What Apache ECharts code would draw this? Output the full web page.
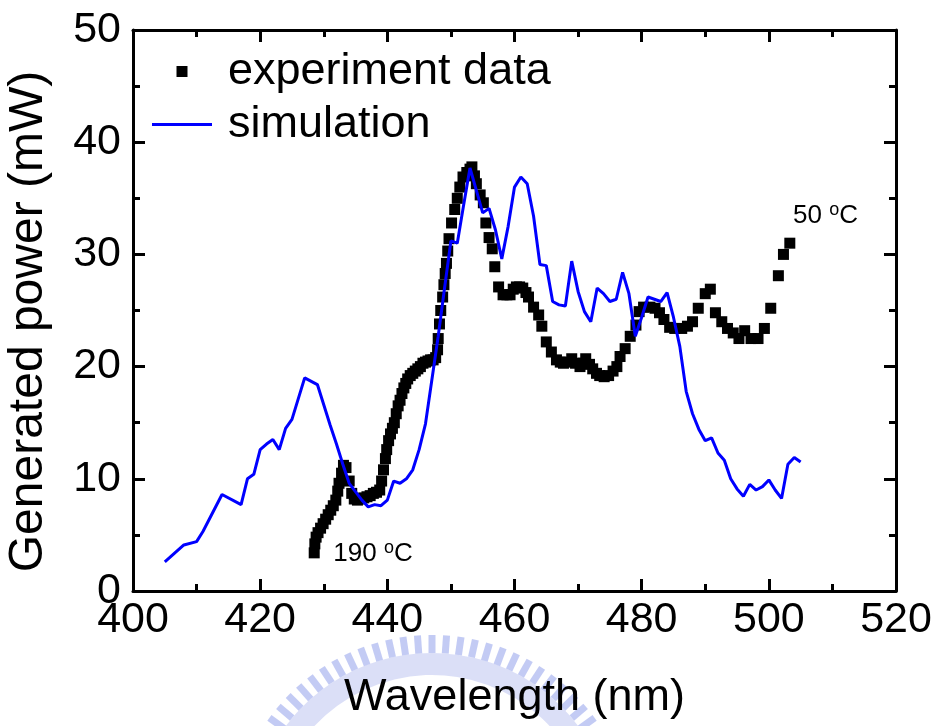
<!DOCTYPE html>
<html>
<head>
<meta charset="utf-8">
<script src="https://cdn.jsdelivr.net/npm/echarts@6/dist/echarts.min.js"></script>
<style>
  html, body { margin: 0; padding: 0; background: #fff; }
  #chart { width: 939px; height: 726px; }
</style>
</head>
<body>
<div id="chart"></div>
<script>
// Axis ranges and tick steps
const xTickValues = [400, 420, 440, 460, 480, 500, 520];
const yTickValues = [0, 10, 20, 30, 40, 50];

// Measured generated power vs. wavelength (temperature tuned 190 °C -> 50 °C)
const expWavelength = [
  428.5, 428.6, 428.8, 429.1, 429.5, 429.9, 430.3, 430.7, 431.1, 431.5,
  431.9, 432.2, 432.4, 432.8, 433.1, 433.5, 434.0, 434.4, 434.8, 435.3,
  435.8, 436.3, 436.8, 437.3, 437.8, 438.3, 438.8, 439.1, 439.4, 439.7,
  439.9, 440.2, 440.5, 440.8, 441.1, 441.4, 441.7, 442.0, 442.3, 442.6,
  442.9, 443.2, 443.6, 444.0, 444.4, 444.8, 445.2, 445.6, 446.0, 446.4,
  446.8, 447.2, 447.6, 447.9, 448.0, 448.2, 448.4, 448.7, 448.9, 449.1,
  449.3, 449.5, 449.7, 450.1, 450.6, 451.0, 451.4, 451.9, 452.5, 453.0,
  453.3, 453.7, 454.0, 454.6, 455.1, 455.5, 456.0, 456.5, 456.9, 457.5,
  458.2, 458.8, 459.3, 459.8, 460.3, 460.8, 461.3, 461.8, 462.2, 463.0,
  463.8, 464.3, 465.0, 465.8, 466.6, 467.2, 467.7, 468.3, 469.0, 469.6,
  470.3, 470.8, 471.2, 471.8, 472.3, 472.9, 473.4, 474.1, 474.8, 475.5,
  476.1, 476.6, 477.4, 478.2, 479.1, 479.6, 480.3, 481.3, 482.1, 482.8,
  483.5, 484.4, 485.2, 486.3, 487.2, 488.0, 488.9, 490.0, 490.8, 491.6,
  492.6, 493.5, 494.4, 495.3, 496.2, 497.2, 498.3, 499.3, 500.3, 501.5,
  502.3, 503.3
];
const expPower = [
  3.4, 4.2, 4.8, 5.2, 5.6, 6.0, 6.4, 6.8, 7.2, 7.6,
  8.1, 8.9, 9.6, 10.5, 11.2, 11.0, 9.8, 8.7, 8.2, 8.1,
  8.2, 8.3, 8.4, 8.5, 8.7, 8.8, 9.0, 9.8, 10.8, 11.8,
  12.6, 13.4, 14.0, 14.5, 15.0, 15.8, 16.5, 17.0, 17.6, 18.1,
  18.5, 18.9, 19.2, 19.4, 19.6, 19.8, 20.0, 20.3, 20.4, 20.5,
  20.6, 20.6, 20.8, 21.5, 22.5, 23.8, 25.0, 26.2, 27.3, 28.3,
  29.2, 30.3, 31.4, 32.8, 34.0, 35.0, 36.0, 36.9, 37.3, 37.6,
  37.8, 37.0, 36.3, 35.3, 34.6, 32.8, 31.5, 30.5, 28.9, 27.1,
  26.4, 26.4, 26.4, 26.9, 27.1, 27.1, 27.0, 26.6, 26.2, 25.3,
  24.6, 23.6, 22.2, 21.3, 20.6, 20.4, 20.3, 20.4, 20.7, 20.3,
  20.0, 20.3, 20.7, 20.2, 19.8, 19.4, 19.2, 19.1, 19.2, 19.6,
  20.0, 20.9, 21.6, 22.7, 23.7, 24.9, 25.3, 25.3, 25.2, 24.8,
  24.2, 23.5, 23.4, 23.4, 23.6, 24.0, 25.2, 26.5, 26.9, 24.8,
  24.0, 23.4, 23.0, 22.5, 23.2, 22.5, 22.5, 23.4, 25.2, 28.1,
  30.0, 31.0
];

// Simulated generated power
const simWavelength = [
  405, 408, 410, 411, 414, 417, 418, 419, 420, 421,
  422, 423, 424, 425, 427, 429, 431, 432, 433, 434,
  436, 437, 438, 439, 440, 441, 442, 443, 444, 445,
  446, 447, 448, 449, 450, 451, 452, 453, 454, 455,
  456, 457, 458, 459, 460, 461, 462, 463, 464, 465,
  466, 467, 468, 469, 470, 471, 472, 473, 474, 475,
  476, 477, 478, 479, 480, 481, 482, 483, 484, 485,
  486, 487, 488, 489, 490, 491, 492, 493, 494, 495,
  496, 497, 498, 499, 500, 501, 502, 503, 504, 505
];
const simPower = [
  2.6, 4.1, 4.4, 5.3, 8.6, 7.7, 10.0, 10.4, 12.6, 13.1,
  13.5, 12.6, 14.5, 15.3, 19.0, 18.4, 14.8, 13.1, 11.3, 9.6,
  8.1, 7.5, 7.7, 7.6, 8.1, 9.8, 9.6, 10.0, 10.8, 12.6,
  14.9, 18.8, 22.7, 27.0, 31.2, 31.0, 34.4, 37.7, 35.7, 33.7,
  34.1, 32.2, 29.6, 32.5, 36.0, 36.9, 36.3, 33.4, 29.1, 29.0,
  25.8, 25.5, 25.4, 29.4, 26.7, 24.9, 24.0, 27.0, 26.5, 25.8,
  26.0, 28.4, 26.5, 22.7, 24.4, 26.2, 26.0, 25.8, 26.6, 24.4,
  21.8, 17.8, 15.8, 14.4, 13.4, 13.65, 12.3, 11.66, 10.0, 9.1,
  8.45, 9.5, 9.0, 9.3, 9.9, 9.0, 8.25, 11.3, 11.9, 11.5
];

const seriesNames = ['experiment data', 'simulation'];
const axisTitles = { x: 'Wavelength (nm)', y: 'Generated power (mW)' };
// Temperature notes at both ends of the tuning range: [wavelength, power, text]
const tempNotes = [
  [431.5, 2.5, '190'],
  [503.8, 32.6, '50']
];

const FONT = '"Liberation Sans", Arial, Helvetica, sans-serif';

function frameAxis(pos, isX, showLabels) {
  const lo = isX ? xTickValues[0] : yTickValues[0];
  const hi = isX ? xTickValues[xTickValues.length - 1] : yTickValues[yTickValues.length - 1];
  const step = isX ? xTickValues[1] - xTickValues[0] : yTickValues[1] - yTickValues[0];
  return {
    type: 'value',
    position: pos,
    min: lo,
    max: hi,
    interval: step,
    axisLine: { show: true, onZero: false, lineStyle: { color: '#000', width: 3 } },
    axisTick: { show: true, inside: true, length: 12, lineStyle: { color: '#000', width: 3 } },
    minorTick: { show: true, splitNumber: 2, length: 7, lineStyle: { color: '#000', width: 3 } },
    splitLine: { show: false },
    minorSplitLine: { show: false },
    axisLabel: {
      show: showLabels,
      color: '#000',
      fontFamily: FONT,
      fontSize: 43,
      margin: isX ? 8 : 12
    }
  };
}

const xBottom = Object.assign(frameAxis('bottom', true, true), {
  name: axisTitles.x,
  nameLocation: 'middle',
  nameGap: 84,
  nameTextStyle: { color: '#000', fontFamily: FONT, fontSize: 45 }
});
const yLeft = Object.assign(frameAxis('left', false, true), {
  name: axisTitles.y,
  nameLocation: 'middle',
  nameGap: 80,
  nameTextStyle: { color: '#000', fontFamily: FONT, fontSize: 48, padding: [0, 22, 0, 0] }
});

const option = {
  backgroundColor: '#fff',
  animation: false,
  grid: { left: 133, right: 43, top: 30, bottom: 135, containLabel: false, outerBoundsMode: 'none' },
  xAxis: [xBottom, frameAxis('top', true, false)],
  yAxis: [yLeft, frameAxis('right', false, false)],
  legend: {
    orient: 'vertical',
    left: 152,
    top: 49,
    padding: 0,
    itemGap: 8,
    itemWidth: 60,
    itemHeight: 11,
    symbolKeepAspect: true,
    selectedMode: false,
    data: [
      { name: seriesNames[0], icon: 'path://M0,0h10v10h-10z' },
      { name: seriesNames[1], icon: 'path://M0,0h60v3h-60z' }
    ],
    textStyle: { color: '#000', fontFamily: FONT, fontSize: 45, lineHeight: 45, padding: [0, 0, 0, 11] }
  },
  series: [
    {
      name: seriesNames[0],
      type: 'scatter',
      xAxisIndex: 0,
      yAxisIndex: 0,
      symbol: 'rect',
      symbolSize: 11,
      itemStyle: { color: '#000', opacity: 1 },
      z: 2,
      data: expWavelength.map((w, i) => [w, expPower[i]])
    },
    {
      name: seriesNames[1],
      type: 'line',
      xAxisIndex: 0,
      yAxisIndex: 0,
      symbol: 'none',
      showSymbol: false,
      lineStyle: { color: '#0000ff', width: 3 },
      itemStyle: { color: '#0000ff' },
      z: 3,
      data: simWavelength.map((w, i) => [w, simPower[i]])
    }
  ]
};

const chart = echarts.init(document.getElementById('chart'), null, { renderer: 'canvas' });
chart.setOption(option);

// Faint emblem arc behind the x-axis title
function emblem() {
  const cx = 432, cy = 836;
  const parts = [];
  parts.push({
    type: 'sector',
    silent: true,
    z: -10,
    shape: { cx: cx, cy: cy, r0: 161, r: 183, startAngle: -Math.PI * 0.8, endAngle: -Math.PI * 0.2, clockwise: true },
    style: { fill: 'rgba(160,172,235,0.38)' }
  });
  const n = 27;
  const a0 = 36 * Math.PI / 180, a1 = 144 * Math.PI / 180;
  for (let k = 0; k < n; k++) {
    const th = a0 + (a1 - a0) * k / (n - 1);
    const rm = 192;
    parts.push({
      type: 'rect',
      silent: true,
      z: -10,
      x: cx + rm * Math.cos(th),
      y: cy - rm * Math.sin(th),
      rotation: th - Math.PI / 2,
      shape: { x: -3.5, y: -9, width: 7, height: 18 },
      style: { fill: 'rgba(145,160,235,0.55)' }
    });
  }
  return parts;
}

// Temperature notes with a raised degree sign
function notes() {
  return tempNotes.map(function (t) {
    const p = chart.convertToPixel({ gridIndex: 0 }, [t[0], t[1]]);
    return {
      type: 'text',
      silent: true,
      z: 10,
      x: p[0],
      y: p[1] + 6,
      style: {
        text: '{n|' + t[2] + ' }{s|o}{n|C}',
        align: 'left',
        verticalAlign: 'bottom',
        fill: '#000',
        rich: {
          n: { fontSize: 26, fontFamily: FONT, lineHeight: 30, fill: '#000' },
          s: { fontSize: 18, fontFamily: FONT, lineHeight: 1, verticalAlign: 'top', fill: '#000' }
        }
      }
    };
  });
}

chart.setOption({ graphic: emblem().concat(notes()) });
</script>
</body>
</html>
